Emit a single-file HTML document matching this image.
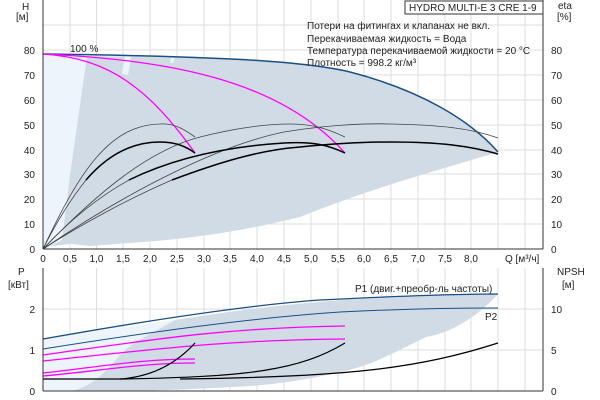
<!DOCTYPE html>
<html><head><meta charset="utf-8"><style>
body{margin:0;background:#fff}
svg{display:block;font-family:"Liberation Sans",sans-serif;font-size:10px}
</style></head><body>
<svg width="600" height="400" viewBox="0 0 600 400">
<g stroke="#ddd" stroke-width="1">
<line x1="43" y1="25" x2="543" y2="25"/>
<line x1="43" y1="50" x2="543" y2="50"/><line x1="43" y1="75" x2="543" y2="75"/><line x1="43" y1="100" x2="543" y2="100"/><line x1="43" y1="125" x2="543" y2="125"/><line x1="43" y1="150" x2="543" y2="150"/><line x1="43" y1="174" x2="543" y2="174"/><line x1="43" y1="199" x2="543" y2="199"/><line x1="43" y1="224" x2="543" y2="224"/>
<line x1="70" y1="0" x2="70" y2="249"/><line x1="96.5" y1="0" x2="96.5" y2="249"/><line x1="123" y1="0" x2="123" y2="249"/><line x1="150" y1="0" x2="150" y2="249"/><line x1="177" y1="0" x2="177" y2="249"/><line x1="204" y1="0" x2="204" y2="249"/><line x1="230" y1="0" x2="230" y2="249"/><line x1="257" y1="0" x2="257" y2="249"/><line x1="284" y1="0" x2="284" y2="249"/><line x1="311" y1="0" x2="311" y2="249"/><line x1="338" y1="0" x2="338" y2="249"/><line x1="364" y1="0" x2="364" y2="249"/><line x1="391" y1="0" x2="391" y2="249"/><line x1="418" y1="0" x2="418" y2="249"/><line x1="445" y1="0" x2="445" y2="249"/><line x1="471" y1="0" x2="471" y2="249"/><line x1="498" y1="0" x2="498" y2="249"/><line x1="525" y1="0" x2="525" y2="249"/>
</g>
<path d="M43,54 L87,56 L70,175 L62,245 L43,249Z" fill="#edf4fb"/>
<path d="M87,56 C200,57 300,60 350,72 C420,90 470,120 498,152 C440,170 380,185 300,217 C240,232 180,240 130,243 L90,246 L72,244 L50,246 L62,240 L70,175Z" fill="#d0dbe6"/>
<path d="M125,56 L131,57 L128,75 L122,74Z" fill="#edf4fb"/>
<path d="M171,58 L175,58 L173,63 L170,63Z" fill="#edf4fb"/>
<path d="M43,54 C200,56 300,60 350,72 C420,90 470,120 498,152" fill="none" stroke="#1a4f85" stroke-width="1.5"/>
<path d="M43,54 C110,58 150,90 195,153" fill="none" stroke="#f0f" stroke-width="1.3"/>
<path d="M43,54 C170,60 280,80 345,153" fill="none" stroke="#f0f" stroke-width="1.3"/>
<g fill="none" stroke="#444" stroke-width="0.8">
<path d="M43,249 C80,170 110,125 160,124 C175,123 185,130 195,137"/>
<path d="M43,249 C100,190 150,150 200,137 C240,127 270,124 290,124 C315,124 330,130 345,137"/>
<path d="M43,249 C130,190 220,145 284,132 C320,126 360,123 391,124 C440,125 470,128 498,138"/>
<path d="M43,249 C55,225 70,200 86,180"/>
<path d="M43,249 C70,220 100,196 129,180"/>
<path d="M43,249 C80,225 130,198 172,180"/>
</g>
<g fill="none" stroke="#000" stroke-width="1.5">
<path d="M86,180 C110,152 135,142 160,142 C178,142 188,148 195,153"/>
<path d="M129,180 C170,160 220,147 284,143 C315,141 330,146 345,153"/>
<path d="M172,180 C220,162 260,150 300,147 C340,143 370,142 391,142 C440,142 470,146 498,154"/>
</g>
<g stroke="#333" stroke-width="1" fill="none">
<line x1="43" y1="0" x2="43" y2="249"/><line x1="43" y1="249" x2="543" y2="249"/><line x1="543" y1="0" x2="543" y2="249"/>
</g>
<g fill="#222" text-anchor="end">
<text x="35" y="253">0</text><text x="35" y="228">10</text><text x="35" y="203">20</text><text x="35" y="178">30</text><text x="35" y="154">40</text><text x="35" y="129">50</text><text x="35" y="104">60</text><text x="35" y="79">70</text><text x="35" y="54">80</text>
</g>
<g fill="#222">
<text x="551" y="253">0</text><text x="551" y="228">10</text><text x="551" y="203">20</text><text x="551" y="178">30</text><text x="551" y="154">40</text><text x="551" y="129">50</text><text x="551" y="104">60</text><text x="551" y="79">70</text><text x="551" y="54">80</text>
<text x="558" y="9">eta</text><text x="557" y="20">[%]</text>
<text x="22" y="10">H</text><text x="16" y="20">[м]</text>
<text x="70" y="52">100 %</text>
</g>
<g fill="#222" text-anchor="middle">
<text x="43" y="262">0</text><text x="70" y="262">0,5</text><text x="96.5" y="262">1,0</text><text x="123" y="262">1,5</text><text x="150" y="262">2,0</text><text x="177" y="262">2,5</text><text x="204" y="262">3,0</text><text x="230" y="262">3,5</text><text x="257" y="262">4,0</text><text x="284" y="262">4,5</text><text x="311" y="262">5,0</text><text x="338" y="262">5,5</text><text x="364" y="262">6,0</text><text x="391" y="262">6,5</text><text x="418" y="262">7,0</text><text x="445" y="262">7,5</text><text x="471" y="262">8,0</text>
</g>
<text x="505" y="262" fill="#222">Q [м³/ч]</text>
<rect x="405" y="1" width="138" height="13" fill="#fff" stroke="#333"/>
<text x="409" y="11" fill="#222">HYDRO MULTI-E 3 CRE 1-9</text>
<g fill="#222">
<text x="307" y="29">Потери на фитингах и клапанах не вкл.</text>
<text x="307" y="42">Перекачиваемая жидкость = Вода</text>
<text x="307" y="54">Температура перекачиваемой жидкости = 20 °C</text>
<text x="307" y="66">Плотность = 998.2 кг/м³</text>
</g>
<!-- BOTTOM -->
<g stroke="#ddd">
<line x1="43" y1="309" x2="543" y2="309"/><line x1="43" y1="350" x2="543" y2="350"/>
<line x1="70" y1="268" x2="70" y2="391"/><line x1="96.5" y1="268" x2="96.5" y2="391"/><line x1="123" y1="268" x2="123" y2="391"/><line x1="150" y1="268" x2="150" y2="391"/><line x1="177" y1="268" x2="177" y2="391"/><line x1="204" y1="268" x2="204" y2="391"/><line x1="230" y1="268" x2="230" y2="391"/><line x1="257" y1="268" x2="257" y2="391"/><line x1="284" y1="268" x2="284" y2="391"/><line x1="311" y1="268" x2="311" y2="391"/><line x1="338" y1="268" x2="338" y2="391"/><line x1="364" y1="268" x2="364" y2="391"/><line x1="391" y1="268" x2="391" y2="391"/><line x1="418" y1="268" x2="418" y2="391"/><line x1="445" y1="268" x2="445" y2="391"/><line x1="471" y1="268" x2="471" y2="391"/><line x1="498" y1="268" x2="498" y2="391"/><line x1="525" y1="268" x2="525" y2="391"/>
</g>
<path d="M43,339 C90,332 140,325 175,320 L172,326 C150,345 130,360 115,375 C105,385 90,390 70,391 L43,391Z" fill="#edf4fb"/>
<path d="M175,320 C250,308 320,300 400,297 C450,295 480,294 498,294 C470,325 440,335 426,337 C390,355 370,365 349,370 C300,382 260,386 232,387 C180,390 140,391 110,391 L72,391 C95,385 105,372 120,355 C135,340 155,332 175,320Z" fill="#d0dbe6"/>
<path d="M43,339 C150,320 250,305 320,300 C400,296 460,294 498,294" fill="none" stroke="#1a4f85" stroke-width="1.3"/>
<path d="M43,349 C150,332 250,318 340,312 C420,308 470,308 498,308" fill="none" stroke="#1a4f85" stroke-width="1"/>
<g fill="none" stroke="#f0f" stroke-width="1.3">
<path d="M43,355 C150,340 220,328 345,326"/>
<path d="M43,361 C150,350 220,340 345,339"/>
<path d="M43,373 C100,367 140,359 195,359"/>
<path d="M43,376 C100,371 140,363 195,363"/>
</g>
<g fill="none" stroke="#000" stroke-width="1.2">
<line x1="43" y1="379" x2="120" y2="379"/>
<path d="M120,379 C150,377 175,365 195,343"/>
<path d="M120,379 C250,377 300,370 345,343"/>
<path d="M180,379 C350,377 420,368 498,343"/>
</g>
<g stroke="#333" fill="none">
<line x1="43" y1="268" x2="43" y2="391"/><line x1="43" y1="391" x2="543" y2="391"/><line x1="543" y1="268" x2="543" y2="391"/>
</g>
<g fill="#222" text-anchor="end">
<text x="35" y="395">0</text><text x="35" y="354">1</text><text x="35" y="313">2</text>
</g>
<g fill="#222">
<text x="551" y="395">0</text><text x="551" y="354">5</text><text x="551" y="313">10</text>
<text x="18" y="275">P</text><text x="8" y="288">[кВт]</text>
<text x="557" y="275">NPSH</text><text x="562" y="288">[м]</text>
<text x="355" y="292">P1 (двиг.+преобр-ль частоты)</text>
<text x="485" y="320">P2</text>
</g>
</svg>
</body></html>
